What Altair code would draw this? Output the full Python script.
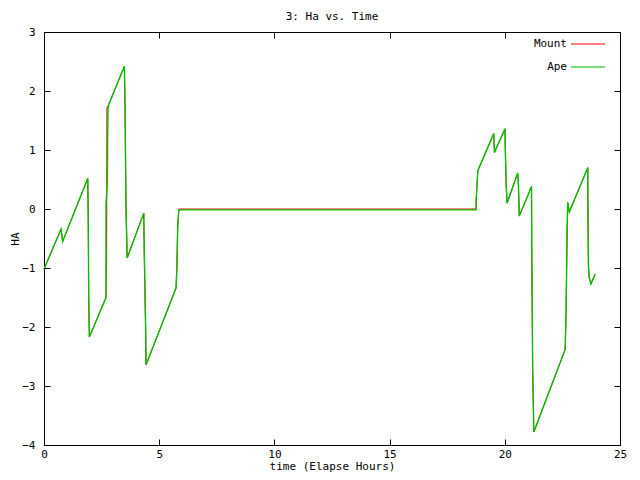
import altair as alt
import pandas as pd

# Mount series (hours, HA)
mount_t = [0.0, 0.74, 0.81, 1.90, 1.92, 1.94, 1.97, 2.69, 2.72, 2.73, 2.81,
           3.49, 3.52, 3.56, 3.61, 4.33, 4.35, 4.41, 4.43, 5.73, 5.77, 5.80, 5.85,
           18.75, 18.76, 18.80, 18.83, 19.52, 19.55, 20.01, 20.02, 20.06, 20.10,
           20.56, 20.59, 20.63, 21.16, 21.17, 21.21, 21.26, 22.62, 22.66, 22.70,
           22.73, 22.80, 23.60, 23.61, 23.63, 23.66, 23.74, 23.92]
mount_ha = [-1.02, -0.34, -0.55, 0.52, -0.14, -1.49, -2.17, -1.50, -0.76, 1.71, 1.77,
            2.42, 1.60, 0.00, -0.83, -0.07, -0.70, -2.00, -2.64, -1.34, -0.98, -0.33, 0.00,
            0.00, 0.17, 0.45, 0.65, 1.28, 0.96, 1.36, 1.04, 0.40, 0.10,
            0.61, 0.42, -0.12, 0.38, -0.66, -2.73, -3.78, -2.38, -1.74, -0.51,
            0.11, -0.05, 0.70, -0.07, -0.96, -1.15, -1.27, -1.10]

# Ape series (hours, HA)
ape_t = [0.0, 0.74, 0.81, 1.90, 1.92, 1.94, 1.97, 2.69, 2.69, 2.75, 2.76, 2.78, 2.81,
         3.49, 3.52, 3.56, 3.61, 4.33, 4.35, 4.41, 4.43, 5.73, 5.77, 5.80, 5.85,
         18.75, 18.76, 18.80, 18.83, 19.52, 19.55, 20.01, 20.02, 20.06, 20.10,
         20.56, 20.59, 20.63, 21.16, 21.17, 21.21, 21.26, 22.62, 22.66, 22.70,
         22.73, 22.80, 23.60, 23.61, 23.63, 23.66, 23.74, 23.92]
ape_ha = [-1.02, -0.34, -0.55, 0.52, -0.14, -1.49, -2.17, -1.50, 0.08, 0.43, 1.14, 1.71, 1.77,
          2.42, 1.60, 0.00, -0.83, -0.07, -0.70, -2.00, -2.64, -1.34, -0.98, -0.33, -0.015,
          -0.015, 0.17, 0.45, 0.65, 1.28, 0.96, 1.36, 1.04, 0.40, 0.10,
          0.61, 0.42, -0.12, 0.38, -0.66, -2.73, -3.78, -2.38, -1.74, -0.51,
          0.11, -0.05, 0.70, -0.07, -0.96, -1.15, -1.27, -1.10]

x_ticks = [0, 5, 10, 15, 20, 25]
y_ticks = [-4, -3, -2, -1, 0, 1, 2, 3]
series_names = ["Mount", "Ape"]
series_colors = ["#ff0000", "#00c000"]

W, H = 576, 413
FONT = "DejaVu Sans Mono"

mount = pd.DataFrame({"t": mount_t, "ha": mount_ha, "series": "Mount", "o": range(len(mount_t))})
ape = pd.DataFrame({"t": ape_t, "ha": ape_ha, "series": "Ape", "o": range(len(ape_t))})

xs = alt.Scale(domain=[0, 25], nice=False, zero=False)
ys = alt.Scale(domain=[-4, 3], nice=False, zero=False)
color = alt.Color("series:N", scale=alt.Scale(domain=series_names, range=series_colors),
                  legend=alt.Legend(title=None, orient="none", legendX=526, legendY=-6,
                                    symbolType="stroke", symbolSize=1156, symbolStrokeWidth=1.2,
                                    labelFont=FONT, labelFontSize=11, labelColor="black",
                                    labelAlign="right", labelOffset={"expr": "-39"},
                                    rowPadding={"expr": "-23"}, padding=0))

common = dict(labelFont=FONT, labelFontSize=11, labelColor="black", titleFont=FONT,
              titleFontSize=11, titleFontWeight="normal", titleColor="black",
              domain=False, grid=False, labelFlush=False, format="d", zindex=1,
              ticks=True, tickSize={"expr": "-6"}, tickColor="black", tickWidth=1)

x_axis = alt.Axis(values=x_ticks, orient="bottom", labelPadding=9,
                  title="time (Elapse Hours)", titlePadding=1, **common)
y_axis = alt.Axis(values=y_ticks, orient="left", labelPadding=15,
                  title="HA", titlePadding=1, **common)
x_axis_top = alt.Axis(values=x_ticks, orient="top", labels=False, title=None, **common)
y_axis_right = alt.Axis(values=y_ticks, orient="right", labels=False, title=None, **common)

l_mount = alt.Chart(mount).mark_line(strokeWidth=1).encode(
    x=alt.X("t:Q", scale=xs, axis=x_axis),
    y=alt.Y("ha:Q", scale=ys, axis=y_axis),
    color=color, order="o:Q")

l_ape = alt.Chart(ape).mark_line(strokeWidth=1.4).encode(
    x=alt.X("t:Q", scale=xs, axis=x_axis_top),
    y=alt.Y("ha:Q", scale=ys, axis=y_axis_right),
    color=color, order="o:Q")

chart = alt.layer(l_mount, l_ape).resolve_axis(
    x="independent", y="independent"
).properties(
    width=W, height=H,
    title=alt.TitleParams("3: Ha vs. Time", font=FONT, fontSize=11, fontWeight="normal",
                          color="black", anchor="middle", offset=4),
    autosize="none",
    padding={"left": 36, "top": 24, "right": 12, "bottom": 27},
).configure(background="white").configure_view(stroke="black", strokeWidth=1)

chart.save("out.html", embed_options={"renderer": "svg", "actions": False})
